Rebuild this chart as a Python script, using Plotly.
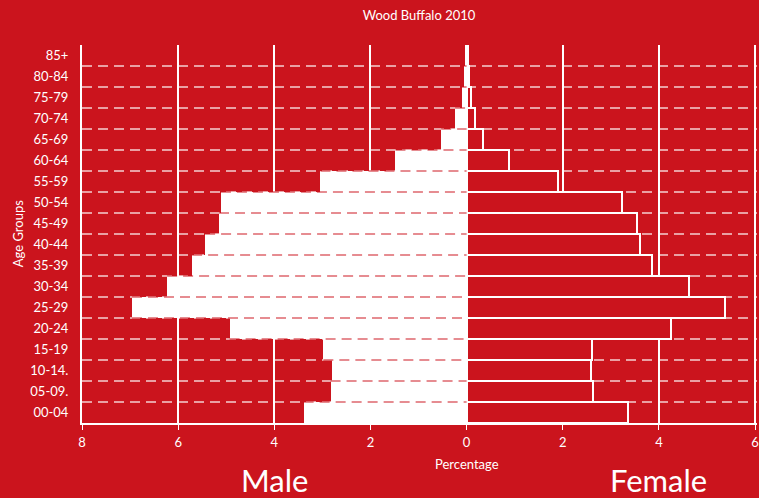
import plotly.graph_objects as go

# age groups from bottom to top
age_groups = ["00-04", "05-09.", "10-14.", "15-19", "20-24", "25-29", "30-34", "35-39",
              "40-44", "45-49", "50-54", "55-59", "60-64", "65-69", "70-74", "75-79",
              "80-84", "85+"]
male_pct = [3.39, 2.83, 2.81, 2.98, 4.93, 6.96, 6.23, 5.71, 5.44, 5.15, 5.11, 3.04,
            1.48, 0.53, 0.24, 0.10, 0.05, 0.03]
female_pct = [3.35, 2.62, 2.58, 2.61, 4.25, 5.38, 4.62, 3.85, 3.61, 3.54, 3.23, 1.91,
              0.88, 0.34, 0.17, 0.09, 0.05, 0.03]
x_ticks = [-8, -6, -4, -2, 0, 2, 4, 6]
x_tick_labels = ["8", "6", "4", "2", "0", "2", "4", "6"]

BG = "#cb141d"
FONT = "Lato, 'Open Sans', sans-serif"
W, H = 759, 498
L, R, T, B = 82, 0, 45, 75

idx = list(range(len(age_groups)))

fig = go.Figure()
fig.add_trace(go.Bar(
    y=idx, x=[-v for v in male_pct], orientation="h", name="Male",
    marker=dict(color="white", line=dict(width=0)),
))
fig.add_trace(go.Bar(
    y=idx, x=female_pct, orientation="h", name="Female",
    marker=dict(color=BG, line=dict(color="white", width=2)),
))

# reddish dashes where the category boundaries cross the white male bars
bx, by = [], []
for i in range(len(age_groups) - 1):
    bx += [-max(male_pct[i], male_pct[i + 1]), 0, None]
    by += [i + 0.5, i + 0.5, None]
fig.add_trace(go.Scatter(
    x=bx, y=by, mode="lines", hoverinfo="skip",
    line=dict(color="rgba(204,21,30,0.65)", width=1.5, dash="10px,6px"),
))

fig.update_layout(
    width=W, height=H,
    margin=dict(l=L, r=R, t=T, b=B),
    paper_bgcolor=BG, plot_bgcolor=BG,
    barmode="overlay", bargap=0,
    showlegend=False,
    font=dict(family=FONT, color="white", size=13),
    title=dict(text="Wood Buffalo 2010", x=(420 - L) / (W - L - R), xref="paper",
               xanchor="center", y=1 - 15 / H, yanchor="middle",
               font=dict(size=13, color="white")),
)
fig.update_xaxes(
    range=[-8, 6.04], tickvals=x_ticks, ticktext=x_tick_labels,
    showgrid=True, gridcolor="white", gridwidth=2,
    zeroline=True, zerolinecolor="white", zerolinewidth=2,
    showline=True, linecolor="white", linewidth=1.5,
    ticks="outside", tickcolor="white", ticklen=5, tickwidth=1,
    ticklabelstandoff=2, ticklabeloverflow="allow", tickfont=dict(size=13),
)
fig.update_yaxes(
    range=[-0.5, len(age_groups) - 0.5], tickvals=idx, ticktext=age_groups,
    showgrid=False, zeroline=False,
    showline=True, linecolor="white", linewidth=2,
    ticks="", ticklabelstandoff=9, tickfont=dict(size=13),
    minor=dict(tickvals=[i + 0.5 for i in idx[:-1]], showgrid=True,
               gridcolor="rgba(255,255,255,0.6)", gridwidth=1.5, griddash="10px,6px",
               ticks=""),
)

plot_h = H - T - B
plot_w = W - L - R
fig.add_annotation(text="Percentage", x=0, xref="x", y=-41 / plot_h, yref="paper",
                   yanchor="middle", showarrow=False, font=dict(size=13))
fig.add_annotation(text="Male", x=-4, xref="x", y=-57 / plot_h, yref="paper",
                   yanchor="middle", showarrow=False, font=dict(size=31))
fig.add_annotation(text="Female", x=4, xref="x", y=-57 / plot_h, yref="paper",
                   yanchor="middle", showarrow=False, font=dict(size=31))
fig.add_annotation(text="Age Groups", x=(18 - L) / plot_w, xref="paper", y=0.5, yref="paper",
                   xanchor="center", yanchor="middle", textangle=-90, showarrow=False,
                   font=dict(size=13))

fig.write_html("out.html", config={"displayModeBar": False},
               post_script="document.body.style.margin='0';")
